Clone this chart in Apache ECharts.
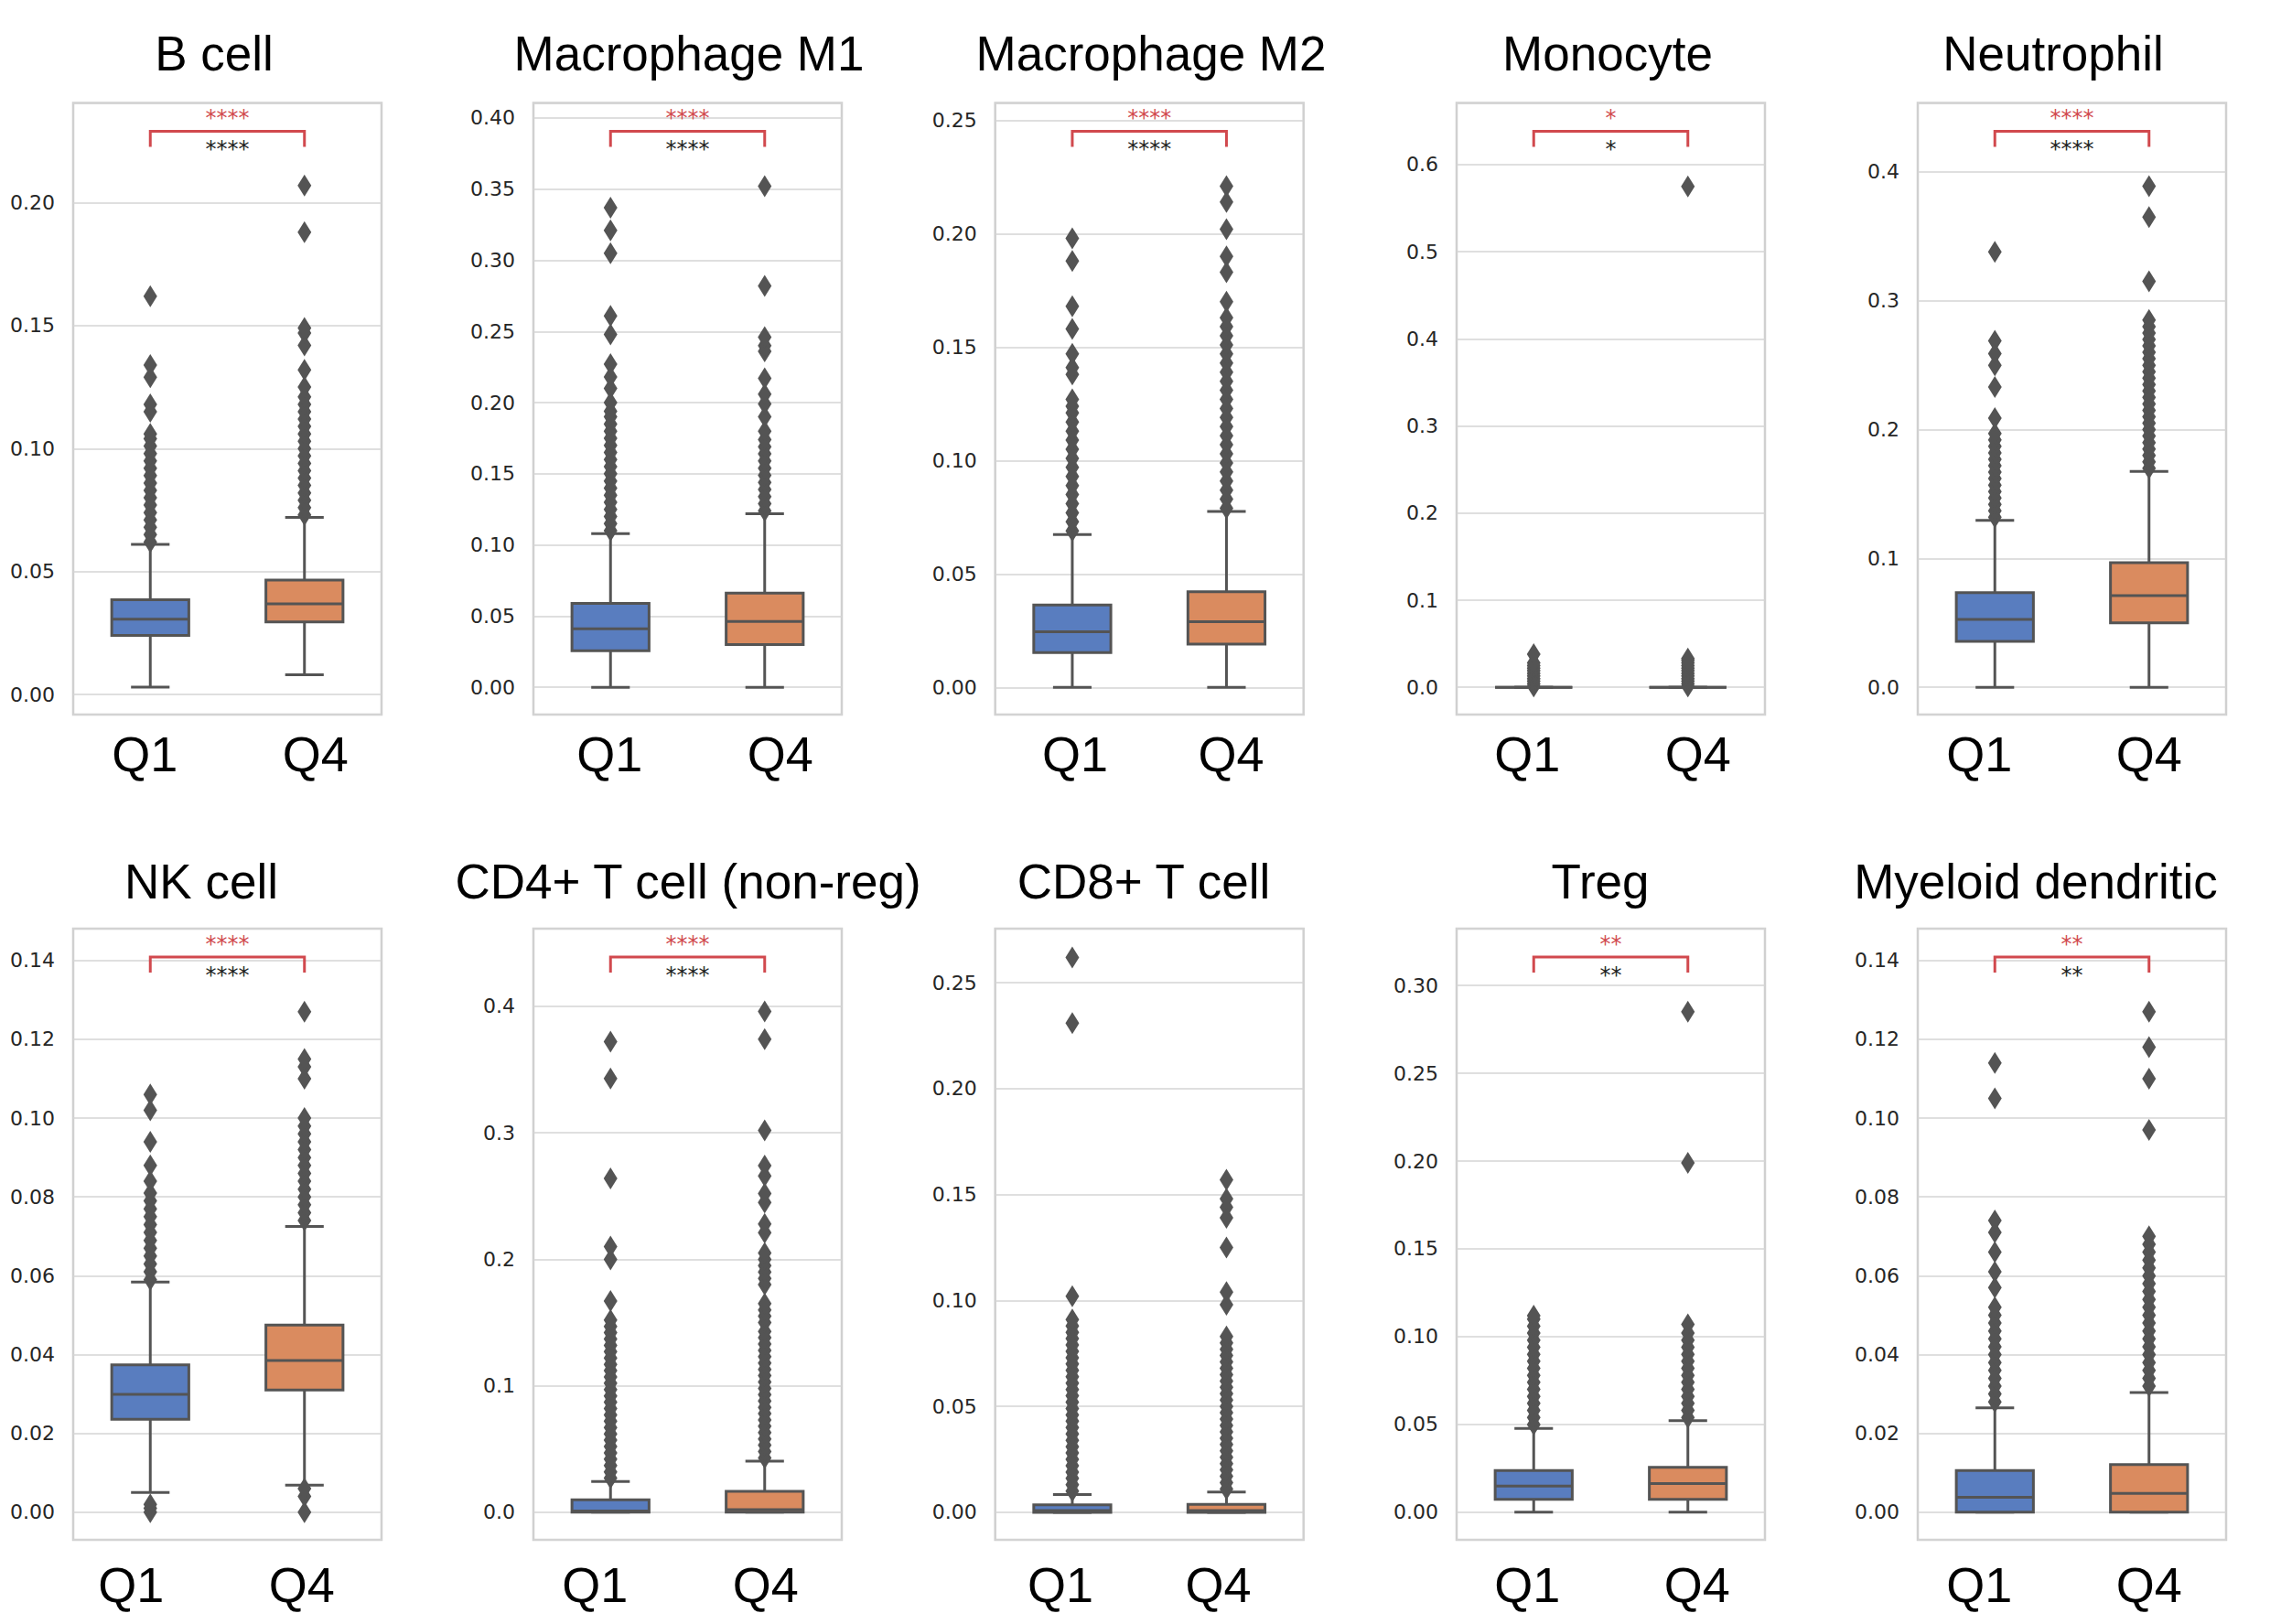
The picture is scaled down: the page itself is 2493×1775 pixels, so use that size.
<!DOCTYPE html>
<html><head><meta charset="utf-8">
<script src="https://cdn.jsdelivr.net/npm/echarts@6/dist/echarts.min.js"></script>
<style>
html,body{margin:0;padding:0;background:#fff;overflow:hidden;}
#chart{width:2493px;height:1775px;}
</style></head><body><div id="chart"></div>
<script>
// ---------------- data ----------------
const categories = ['Q1', 'Q4'];
const titles = ['B cell', 'Macrophage M1', 'Macrophage M2', 'Monocyte', 'Neutrophil',
  'NK cell', 'CD4+ T cell (non-reg)', 'CD8+ T cell', 'Treg', 'Myeloid dendritic'];
const sigLabels = ['****', '****', '****', '*', '****', '****', '****', '', '**', '**'];

// [lower whisker, Q1, median, Q3, upper whisker]
const q1Stats = [
  [0.003, 0.024, 0.0306, 0.0385, 0.061],
  [0, 0.0257, 0.0412, 0.059, 0.108],
  [0, 0.0154, 0.0245, 0.0363, 0.0674],
  [0, 0, 0, 0, 0],
  [0, 0.0356, 0.0528, 0.0735, 0.1295],
  [0.005, 0.0236, 0.0299, 0.0374, 0.0584],
  [0, 0, 0.001, 0.0099, 0.0244],
  [0, 0, 0.0008, 0.0035, 0.0084],
  [0, 0.0074, 0.0149, 0.0238, 0.0477],
  [0, 0, 0.0038, 0.0106, 0.0265]
];
const q4Stats = [
  [0.008, 0.0295, 0.0369, 0.0465, 0.072],
  [0, 0.030, 0.0463, 0.0662, 0.122],
  [0, 0.0191, 0.029, 0.0422, 0.0776],
  [0, 0, 0, 0, 0],
  [0, 0.050, 0.0711, 0.0967, 0.1675],
  [0.0069, 0.031, 0.0385, 0.0475, 0.0725],
  [0, 0, 0.002, 0.0165, 0.0405],
  [0, 0, 0.0008, 0.0037, 0.0096],
  [0, 0.0074, 0.0164, 0.0256, 0.0521],
  [0, 0, 0.0048, 0.0121, 0.0304]
];
const q1Outliers = [
  [0.062,0.065,0.068,0.071,0.074,0.077,0.080,0.083,0.086,0.089,0.092,0.095,0.098,0.101,0.104,0.106,0.115,0.118,0.129,0.134,0.162],
  [0.110,0.115,0.120,0.125,0.130,0.135,0.140,0.145,0.150,0.155,0.160,0.165,0.170,0.175,0.180,0.185,0.190,0.194,0.200,0.210,0.218,0.227,0.248,0.261,0.305,0.321,0.337],
  [0.069,0.073,0.077,0.081,0.085,0.089,0.093,0.097,0.101,0.105,0.109,0.113,0.117,0.121,0.124,0.127,0.138,0.141,0.147,0.158,0.168,0.188,0.198],
  [0.001,0.004,0.007,0.010,0.013,0.016,0.019,0.022,0.025,0.028,0.038],
  [0.132,0.137,0.142,0.147,0.152,0.157,0.162,0.167,0.172,0.177,0.182,0.187,0.192,0.197,0.209,0.233,0.250,0.259,0.269,0.338],
  [0.000,0.001,0.002,0.059,0.061,0.063,0.065,0.067,0.069,0.071,0.073,0.075,0.077,0.079,0.081,0.084,0.088,0.094,0.102,0.106],
  [0.027,0.032,0.037,0.042,0.047,0.052,0.057,0.062,0.067,0.072,0.077,0.082,0.087,0.092,0.097,0.102,0.107,0.112,0.117,0.122,0.127,0.132,0.137,0.142,0.147,0.152,0.167,0.200,0.210,0.264,0.343,0.372],
  [0.010,0.013,0.016,0.019,0.022,0.025,0.028,0.031,0.034,0.037,0.040,0.043,0.046,0.049,0.052,0.055,0.058,0.061,0.064,0.067,0.070,0.073,0.076,0.079,0.082,0.085,0.088,0.091,0.102,0.231,0.262],
  [0.050,0.054,0.058,0.062,0.066,0.070,0.074,0.078,0.082,0.086,0.090,0.094,0.098,0.102,0.106,0.110,0.112],
  [0.028,0.030,0.032,0.034,0.036,0.038,0.040,0.042,0.044,0.046,0.048,0.050,0.052,0.057,0.061,0.066,0.071,0.074,0.105,0.114]
];
const q4Outliers = [
  [0.073,0.076,0.079,0.082,0.085,0.088,0.091,0.094,0.097,0.100,0.103,0.106,0.109,0.112,0.115,0.118,0.121,0.125,0.132,0.142,0.147,0.149,0.188,0.207],
  [0.124,0.129,0.134,0.139,0.144,0.149,0.154,0.159,0.164,0.169,0.174,0.180,0.190,0.199,0.206,0.217,0.236,0.240,0.246,0.282,0.352],
  [0.079,0.083,0.087,0.091,0.095,0.099,0.103,0.107,0.111,0.115,0.119,0.123,0.127,0.131,0.135,0.139,0.143,0.147,0.151,0.155,0.159,0.163,0.170,0.183,0.190,0.202,0.214,0.221],
  [0.001,0.004,0.007,0.010,0.013,0.016,0.019,0.022,0.025,0.028,0.031,0.033,0.575],
  [0.170,0.175,0.180,0.185,0.190,0.195,0.200,0.205,0.210,0.215,0.220,0.225,0.230,0.235,0.240,0.245,0.250,0.255,0.260,0.265,0.270,0.275,0.280,0.285,0.315,0.365,0.389],
  [0.000,0.004,0.006,0.074,0.076,0.078,0.080,0.082,0.084,0.086,0.088,0.090,0.092,0.094,0.096,0.098,0.100,0.110,0.113,0.115,0.127],
  [0.043,0.048,0.053,0.058,0.063,0.068,0.073,0.078,0.083,0.088,0.093,0.098,0.103,0.108,0.113,0.118,0.123,0.128,0.133,0.138,0.143,0.150,0.155,0.160,0.165,0.180,0.185,0.190,0.195,0.200,0.205,0.221,0.228,0.245,0.252,0.266,0.274,0.302,0.374,0.396],
  [0.011,0.014,0.017,0.020,0.023,0.026,0.029,0.032,0.035,0.038,0.041,0.044,0.047,0.050,0.053,0.056,0.059,0.062,0.065,0.068,0.071,0.074,0.077,0.080,0.083,0.098,0.104,0.125,0.139,0.144,0.148,0.157],
  [0.054,0.058,0.062,0.066,0.070,0.074,0.078,0.082,0.086,0.090,0.094,0.098,0.102,0.107,0.199,0.285],
  [0.032,0.034,0.036,0.038,0.040,0.042,0.044,0.046,0.048,0.050,0.052,0.054,0.056,0.058,0.060,0.062,0.064,0.066,0.068,0.070,0.097,0.110,0.118,0.127]
];

// axis ranges and tick labels
const yMin = [-0.0082, -0.0192, -0.012, -0.0314, -0.0212, -0.007, -0.0218, -0.013, -0.0157, -0.007];
const yMax = [0.2406, 0.4106, 0.2577, 0.671, 0.4536, 0.1481, 0.4615, 0.2756, 0.3324, 0.1481];
const ySplit = [5, 9, 5, 7, 5, 8, 5, 6, 7, 8];
const yStep = [0.05, 0.05, 0.05, 0.1, 0.1, 0.02, 0.1, 0.05, 0.05, 0.02];
const yDecimals = [2, 2, 2, 1, 1, 2, 1, 2, 2, 2];

// ---------------- layout / style ----------------
const colLeft = [80, 583, 1087.7, 1592, 2096];
const gridW = 337;
const rowTop = [112.4, 1014.9];
const rowH = [668.7, 668.1];
const xLabelMargin = [16, 22];
const q1LabelDx = [-6, -1, 3, -7, -17, -21, -17, -13, -7, -17];
const q4LabelDx = [12, 17, 5, 11, 0, -3, 1, -9, 10, 0];
const titleX = [234, 753, 1258, 1757, 2244, 220, 752, 1250, 1749, 2225];
const titleY = [58.5, 963.5];
const boxColors = ['#597dbf', '#da8b5f'];
const edge = '#545454';
const sigRed = '#d1494e';

function shiftPad(dx) { return dx >= 0 ? [0, 0, 0, 2 * dx] : [0, -2 * dx, 0, 0]; }

const option = { animation: false, backgroundColor: '#ffffff', grid: [], xAxis: [], yAxis: [], series: [], graphic: [] };

for (let i = 0; i < 10; i++) {
  const r = Math.floor(i / 5), c = i % 5;
  option.grid.push({
    left: colLeft[c], top: rowTop[r], width: gridW, height: rowH[r],
    show: true, borderColor: '#d0d0d0', borderWidth: 2.5, backgroundColor: '#ffffff',
    containLabel: false, outerBoundsMode: 'none'
  });
  const qStyle = { fontSize: 54, fontFamily: 'Liberation Sans', color: '#000' };
  option.xAxis.push({
    type: 'category', gridIndex: i, data: categories, boundaryGap: true,
    axisLine: { show: false }, axisTick: { show: false }, splitLine: { show: false },
    axisLabel: {
      interval: 0, fontSize: 54, fontFamily: 'Liberation Sans', color: '#000', margin: xLabelMargin[r],
      formatter: function (value, idx) { return '{c' + idx + '|' + value + '}'; },
      rich: {
        c0: Object.assign({ padding: shiftPad(q1LabelDx[i]) }, qStyle),
        c1: Object.assign({ padding: shiftPad(q4LabelDx[i]) }, qStyle)
      }
    }
  });
  const step = yStep[i], dec = yDecimals[i];
  option.yAxis.push({
    type: 'value', gridIndex: i, min: yMin[i], max: yMax[i], splitNumber: ySplit[i],
    axisLine: { show: false }, axisTick: { show: false },
    splitLine: { show: true, lineStyle: { color: '#d4d4d4', width: 1.7 } },
    axisLabel: {
      fontSize: 22, fontFamily: 'DejaVu Sans', color: '#262626', margin: 20,
      formatter: function (v) {
        const k = v / step;
        return Math.abs(k - Math.round(k)) < 1e-6 ? v.toFixed(dec) : '';
      }
    }
  });
  // boxes
  option.series.push({
    type: 'custom', xAxisIndex: i, yAxisIndex: i, z: 2, silent: true,
    encode: { x: 0, y: [1, 2, 3, 4, 5] },
    data: [[0].concat(q1Stats[i]), [1].concat(q4Stats[i])],
    renderItem: function (params, api) {
      const x = api.value(0);
      const lo = api.coord([x, api.value(1)]);
      const b1 = api.coord([x, api.value(2)]);
      const md = api.coord([x, api.value(3)]);
      const b3 = api.coord([x, api.value(4)]);
      const hi = api.coord([x, api.value(5)]);
      const bw = api.size([1, 0])[0] * 0.5;
      const cx = lo[0];
      const lw = 3;
      const st = { stroke: edge, lineWidth: lw };
      return {
        type: 'group', children: [
          { type: 'line', shape: { x1: cx, y1: b1[1], x2: cx, y2: lo[1] }, style: st },
          { type: 'line', shape: { x1: cx, y1: b3[1], x2: cx, y2: hi[1] }, style: st },
          { type: 'line', shape: { x1: cx - bw / 4, y1: lo[1], x2: cx + bw / 4, y2: lo[1] }, style: st },
          { type: 'line', shape: { x1: cx - bw / 4, y1: hi[1], x2: cx + bw / 4, y2: hi[1] }, style: st },
          { type: 'rect', shape: { x: cx - bw / 2, y: b3[1], width: bw, height: b1[1] - b3[1] },
            style: { fill: boxColors[params.dataIndex], stroke: edge, lineWidth: lw } },
          { type: 'line', shape: { x1: cx - bw / 2, y1: md[1], x2: cx + bw / 2, y2: md[1] }, style: st }
        ]
      };
    }
  });
  // fliers
  option.series.push({
    type: 'scatter', xAxisIndex: i, yAxisIndex: i, z: 3, silent: true,
    symbol: 'diamond', symbolSize: [15, 24],
    itemStyle: { color: edge, opacity: 1 },
    data: q1Outliers[i].map(v => [0, v]).concat(q4Outliers[i].map(v => [1, v]))
  });
  // significance bracket
  if (sigLabels[i]) {
    const lab = sigLabels[i];
    option.series.push({
      type: 'custom', xAxisIndex: i, yAxisIndex: i, z: 4, silent: true,
      encode: { x: 0, y: 1 },
      data: [[0, 0]],
      renderItem: function (params, api) {
        const x0 = api.coord([0, 0])[0];
        const x1 = api.coord([1, 0])[0];
        const by = params.coordSys.y + 31;
        return {
          type: 'group', children: [
            { type: 'polyline', shape: { points: [[x0, by + 17], [x0, by], [x1, by], [x1, by + 17]] },
              style: { stroke: sigRed, lineWidth: 3, fill: null } },
            { type: 'text', style: { text: lab, x: (x0 + x1) / 2, y: by - 14, align: 'center', verticalAlign: 'middle',
              fontSize: 24, fontFamily: 'DejaVu Sans', fill: sigRed } },
            { type: 'text', style: { text: lab, x: (x0 + x1) / 2, y: by + 20, align: 'center', verticalAlign: 'middle',
              fontSize: 24, fontFamily: 'DejaVu Sans', fill: '#222222' } }
          ]
        };
      }
    });
  }
  option.graphic.push({
    type: 'text', x: titleX[i], y: titleY[r], silent: true,
    style: { text: titles[i], fontSize: 53, fontFamily: 'Liberation Sans', fill: '#000', align: 'center', verticalAlign: 'middle' }
  });
}

const chart = echarts.init(document.getElementById('chart'), null, { renderer: 'svg' });
chart.setOption(option);
</script>
</body></html>
